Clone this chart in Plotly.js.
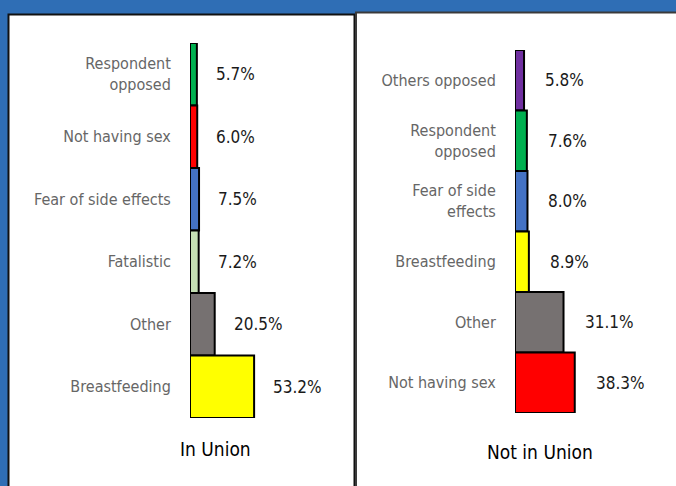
<!DOCTYPE html>
<html>
<head>
<meta charset="utf-8">
<script src="https://cdn.plot.ly/plotly-3.0.1.min.js"></script>
<style>html,body{margin:0;padding:0;background:#2F6EB5;}#chart{width:676px;height:486px;}</style>
</head>
<body>
<div id="chart"></div>
<script>
// ---- data (top to bottom) ----
const unionCats = ["Respondent<br>opposed", "Not having sex", "Fear of side effects", "Fatalistic", "Other", "Breastfeeding"];
const unionVals = [5.7, 6.0, 7.5, 7.2, 20.5, 53.2];
const unionColors = ["#00B050", "#FF0000", "#4472C4", "#C5E0B4", "#767171", "#FFFF00"];

const notUnionCats = ["Others opposed", "Respondent<br>opposed", "Fear of side<br>effects", "Breastfeeding", "Other", "Not having sex"];
const notUnionVals = [5.8, 7.6, 8.0, 8.9, 31.1, 38.3];
const notUnionColors = ["#7030A0", "#00B050", "#4472C4", "#FFFF00", "#767171", "#FF0000"];

const panelTitles = ["In Union", "Not in Union"];

const W = 676, H = 486;
const px = v => v / W;
const py = v => 1 - v / H;
const FONT = "DejaVu Sans Condensed, Liberation Sans Narrow, sans-serif";

const traces = [
  {type: "bar", orientation: "h", x: unionVals, y: unionCats, xaxis: "x", yaxis: "y",
   marker: {color: unionColors, line: {color: "#000", width: 2}}, hoverinfo: "none"},
  {type: "bar", orientation: "h", x: notUnionVals, y: notUnionCats, xaxis: "x2", yaxis: "y2",
   marker: {color: notUnionColors, line: {color: "#000", width: 2}}, hoverinfo: "none"}
];

const annotations = [];
unionVals.forEach((v, i) => annotations.push({
  xref: "x", yref: "y", x: v, y: unionCats[i], text: v.toFixed(1) + "%", showarrow: false,
  xanchor: "left", xshift: 17, font: {family: FONT, size: 17, color: "#1a1a1a"}
}));
notUnionVals.forEach((v, i) => annotations.push({
  xref: "x2", yref: "y2", x: v, y: notUnionCats[i], text: v.toFixed(1) + "%", showarrow: false,
  xanchor: "left", xshift: 19, font: {family: FONT, size: 17, color: "#1a1a1a"}
}));
annotations.push({xref: "paper", yref: "paper", x: px(215), y: py(449), text: panelTitles[0],
  showarrow: false, xanchor: "center", yanchor: "middle", font: {family: FONT, size: 19, color: "#000"}});
annotations.push({xref: "paper", yref: "paper", x: px(540), y: py(452), text: panelTitles[1],
  showarrow: false, xanchor: "center", yanchor: "middle", font: {family: FONT, size: 19, color: "#000"}});

const axX = {showgrid: false, zeroline: false, showline: false, showticklabels: false, ticks: "", range: [0, 100], fixedrange: true};
const axY = {showgrid: false, zeroline: false, showline: false, autorange: "reversed", ticks: "outside",
  ticklen: 15, tickcolor: "rgba(0,0,0,0)", tickfont: {family: FONT, size: 16, color: "#666666"}, fixedrange: true};

const layout = {
  width: W, height: H,
  margin: {l: 0, r: 0, t: 0, b: 0},
  paper_bgcolor: "#2F6EB5", plot_bgcolor: "rgba(0,0,0,0)",
  showlegend: false, bargap: 0,
  xaxis: Object.assign({}, axX, {domain: [px(190), px(310.5)], anchor: "y"}),
  yaxis: Object.assign({}, axY, {domain: [py(418), py(43)], anchor: "x"}),
  xaxis2: Object.assign({}, axX, {domain: [px(515), px(671)], anchor: "y2"}),
  yaxis2: Object.assign({}, axY, {domain: [py(413), py(50)], anchor: "x2"}),
  shapes: [
    {type: "rect", xref: "paper", yref: "paper", x0: px(8.5), x1: px(354.5), y0: py(495), y1: py(14.5),
     fillcolor: "#fff", line: {color: "#111", width: 2}, layer: "below"},
    {type: "rect", xref: "paper", yref: "paper", x0: px(356), x1: px(690), y0: py(495), y1: py(12.5),
     fillcolor: "#fff", line: {color: "#3a3a3a", width: 2}, layer: "below"}
  ],
  annotations: annotations
};

Plotly.newPlot("chart", traces, layout, {displayModeBar: false, staticPlot: true});
</script>
</body>
</html>
